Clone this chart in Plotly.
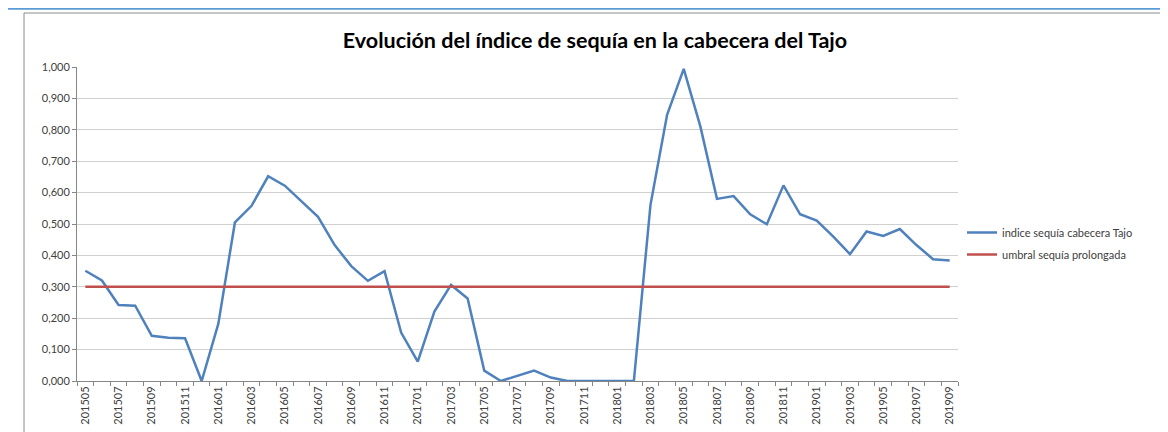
import plotly.graph_objects as go

months = [
    "201505", "201506", "201507", "201508", "201509", "201510", "201511", "201512",
    "201601", "201602", "201603", "201604", "201605", "201606", "201607", "201608",
    "201609", "201610", "201611", "201612",
    "201701", "201702", "201703", "201704", "201705", "201706", "201707", "201708",
    "201709", "201710", "201711", "201712",
    "201801", "201802", "201803", "201804", "201805", "201806", "201807", "201808",
    "201809", "201810", "201811", "201812",
    "201901", "201902", "201903", "201904", "201905", "201906", "201907", "201908",
    "201909",
]
indice = [
    0.351, 0.320, 0.242, 0.240, 0.144, 0.138, 0.136, 0.000,
    0.182, 0.505, 0.558, 0.652, 0.622, 0.571, 0.523, 0.433,
    0.366, 0.319, 0.350, 0.154,
    0.062, 0.221, 0.306, 0.263, 0.033, 0.000, 0.016, 0.033,
    0.011, 0.000, 0.000, 0.000,
    0.000, 0.000, 0.561, 0.848, 0.994, 0.811, 0.580, 0.589,
    0.531, 0.499, 0.623, 0.531,
    0.511, 0.460, 0.404, 0.476, 0.462, 0.484, 0.433, 0.388,
    0.384,
]
umbral = [0.300] * len(months)
series_names = ["indice sequía cabecera Tajo", "umbral sequía prolongada"]
title_text = "Evolución del índice de sequía en la cabecera del Tajo"

OFF = 8  # page body margin
W, H = 1168 - OFF, 432 - OFF
# plot area box in window pixels
L, R, T, B = 77 - OFF, 958 - OFF, 67 - OFF, 381 - OFF
pw, ph = R - L, B - T


def px(X):
    return (X - OFF - L) / pw


def py(Y):
    return (B - (Y - OFF)) / ph


xs = list(range(len(months)))
font_family = "Lato, 'Open Sans', sans-serif"

fig = go.Figure()
fig.add_trace(go.Scatter(
    x=xs, y=indice, mode="lines", name=series_names[0],
    line=dict(color="#4f81bd", width=2.5), legendgroup="a",
))
fig.add_trace(go.Scatter(
    x=xs, y=umbral, mode="lines", name=series_names[1],
    line=dict(color="#c0504d", width=2.5), legendgroup="b",
))

fig.update_layout(
    width=W, height=H, autosize=False,
    margin=dict(l=L, r=W - R, t=T, b=H - B, pad=0),
    paper_bgcolor="white", plot_bgcolor="white",
    separators=",.",
    font=dict(family=font_family, size=11, color="#404040"),
    title=dict(
        text="<b>" + title_text + "</b>",
        x=(595 - OFF) / W, y=1 - (40 - OFF) / H, xref="container",
        yref="container", xanchor="center", yanchor="middle",
        font=dict(family=font_family, size=21.5, color="#000000"),
    ),
    showlegend=True,
    legend=dict(
        x=px(962), y=py(218), xanchor="left", yanchor="top",
        font=dict(family=font_family, size=11, color="#404040"),
        bgcolor="rgba(0,0,0,0)", itemwidth=30,
        traceorder="grouped", tracegroupgap=3,
    ),
    xaxis=dict(
        range=[-0.5, len(months) - 0.5],
        tickmode="array", tickvals=xs[::2], ticktext=months[::2],
        tickangle=-90, ticks="", showgrid=False, zeroline=False,
        showline=True, linecolor="#868686", linewidth=1,
        tickfont=dict(size=11, color="#404040"),
        minor=dict(ticks="outside", tickmode="linear", tick0=-0.5, dtick=1,
                   ticklen=4, tickcolor="#868686", showgrid=False),
        automargin=False, fixedrange=True,
    ),
    yaxis=dict(
        range=[0, 1.0], tickmode="linear", tick0=0, dtick=0.1,
        tickformat=".3f", showgrid=True, gridcolor="#d0d0d0", gridwidth=1,
        zeroline=False, showline=True, linecolor="#868686", linewidth=1,
        ticks="outside", ticklen=4, tickcolor="#868686",
        tickfont=dict(size=11, color="#404040"),
        automargin=False, fixedrange=True,
    ),
    shapes=[
        dict(type="line", xref="paper", yref="paper",
             x0=px(OFF), x1=px(1168), y0=py(8.5), y1=py(8.5),
             line=dict(color="#5b9bd5", width=2.5), layer="below"),
        dict(type="rect", xref="paper", yref="paper",
             x0=px(24), x1=px(1163), y0=py(13), y1=py(445),
             line=dict(color="#8c8c8c", width=1), layer="below"),
    ],
)

fig.write_html("out.html")
